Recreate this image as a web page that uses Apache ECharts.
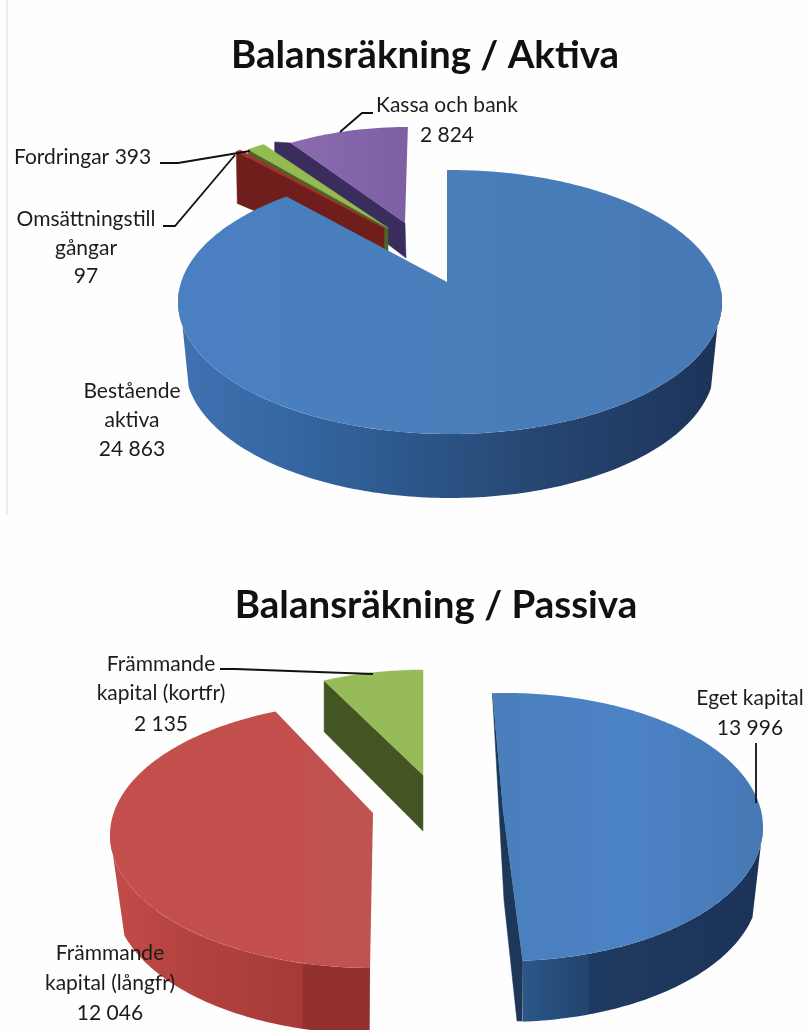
<!DOCTYPE html>
<html><head><meta charset="utf-8">
<script src="https://cdn.jsdelivr.net/npm/echarts@6/dist/echarts.min.js"></script>
<style>html,body{margin:0;padding:0;background:#fff}#c{width:808px;height:1030px}</style>
</head><body><div id="c"></div>
<script>
// ---- data ----
const aktivaTitle = 'Balansräkning / Aktiva';
const aktivaNames = ['Bestående aktiva', 'Omsättningstillgångar', 'Fordringar', 'Kassa och bank'];
const aktivaValues = [24863, 97, 393, 2824];
const passivaTitle = 'Balansräkning / Passiva';
const passivaNames = ['Eget kapital', 'Främmande kapital (långfr)', 'Främmande kapital (kortfr)'];
const passivaValues = [13996, 12046, 2135];

// ---- look and layout ----
const FONT = 'Lato, "Open Sans", sans-serif';
const grad = (stops) => new echarts.graphic.LinearGradient(0, 0, 1, 0,
  stops.map((c, i) => typeof c === 'string' ? { offset: i / (stops.length - 1), color: c } : { offset: c[0], color: c[1] }));

const aktivaLayout = [
  { apex: [447, 282], e: [450, 302, 272, 132], shear: 0,
    face: grad(['#4a80c2', '#4a7ebb', '#4679b5']),
    side: { apex: [447, 345], e: [450, 365, 265, 133], from: 94, to: 266, bFrom: 108, bTo: 252,
      fill: grad([[0, '#4072b2'], [0.2, '#3567a3'], [0.45, '#2c5587'], [0.7, '#25446f'], [1, '#1c3359']]) } },
  { apex: [384, 228], e: [387, 248, 254, 120], shear: 0, face: '#a3302c',
    wall: { edge: 0, rim: [1, 52], apex: [0, 38], fill: '#6f1e1b' } },
  { apex: [388, 228], e: [391, 247, 245, 120], shear: 0, face: '#93bb4f',
    wall: { edge: 0, rim: [0, 40], apex: [0, 36], fill: '#4f6228' } },
  { apex: [405, 223], e: [408, 243, 232, 116], shear: -0.03, face: grad(['#8a6bb0', '#7d5fa3']),
    wall: { edge: 0, rim: [-16, 15], flare: [-16, -1], apex: [1, 35], fill: '#3b2c5e' } }
];
const aktivaOrder = [3, 2, 1, 0];

const passivaLayout = [
  { apex: [503, 810], e: [505, 827, 258, 134], shear: 0.09,
    face: grad(['#4a7ebb', '#4c83c6', '#4678b4']),
    sliver: { via: [[504, 900], [517, 1021], [522, 1021]], fill: '#1c3757' },
    side: { apex: [503, 870], e: [505, 887, 254, 135], from: 97, to: 180, bFrom: 110,
      fill: grad([[0, '#2c5788'], [0.27, '#23446e'], [0.28, '#1f3a60'], [1, '#1c3359']]) } },
  { apex: [373, 813], e: [373, 835, 263, 133], shear: -0.06,
    face: grad([[0, '#c24f4c'], [0.74, '#c4504d'], [0.75, '#c0524f'], [1, '#bf5350']]),
    side: { apex: [373, 875], e: [373, 897, 259, 137], from: 170, to: 261, bTo: 245,
      fill: grad([[0, '#c24b48'], [0.35, '#b2413e'], [0.735, '#a53b38'], [0.745, '#93312f'], [1, '#93312f']]) } },
  { apex: [423, 775], e: [423, 785, 234, 115], shear: 0, face: '#97bb58',
    wall: { edge: 0, rim: [0, 51], apex: [0, 56], fill: '#425523' } }
];
const passivaOrder = [2, 1, 0];

// Labels: value text comes from the data arrays
const labelStyle = { fontFamily: FONT, fontSize: 21, fill: '#1c1c1c' };
const fmt = v => String(v).replace(/\B(?=(\d{3})+$)/g, ' ');
const labels = [
  { x: 447, y: 105, t: 'Kassa och bank' }, { x: 447, y: 135, t: fmt(aktivaValues[3]) },
  { x: 14, y: 157, t: 'Fordringar ' + fmt(aktivaValues[2]), align: 'left' },
  { x: 86, y: 219, t: 'Omsättningstill' }, { x: 86, y: 248, t: 'gångar' }, { x: 86, y: 276, t: fmt(aktivaValues[1]) },
  { x: 132, y: 391, t: 'Bestående' }, { x: 132, y: 420, t: 'aktiva' }, { x: 132, y: 449, t: fmt(aktivaValues[0]) },
  { x: 161, y: 664, t: 'Främmande' }, { x: 161, y: 693, t: 'kapital (kortfr)' }, { x: 161, y: 724, t: fmt(passivaValues[2]) },
  { x: 750, y: 698, t: 'Eget kapital' }, { x: 750, y: 728, t: fmt(passivaValues[0]) },
  { x: 110, y: 953, t: 'Främmande' }, { x: 110, y: 983, t: 'kapital (långfr)' }, { x: 110, y: 1013, t: fmt(passivaValues[1]) }
];
const leaders = [
  [[340, 132], [362, 113], [373, 113]],
  [[160, 163], [178, 163], [250, 151]],
  [[163, 226], [175, 226], [235, 155]],
  [[220, 669], [235, 669], [373, 674]],
  [[756, 743], [756, 803]]
];

// ---- geometry: a ray from the slice apex meets the rim ellipse ----
function rim(l, deg) {
  const a = deg * Math.PI / 180, [ex, ey, rx, ry] = l.e, [ax, ay] = l.apex;
  const dx = rx * Math.sin(a) - (l.shear || 0) * ry * Math.cos(a), dy = -ry * Math.cos(a);
  const ux = (ax - ex) / rx, uy = (ay - ey) / ry, vx = dx / rx, vy = dy / ry;
  const A = vx * vx + vy * vy, B = 2 * (ux * vx + uy * vy), C = ux * ux + uy * uy - 1;
  const t = (-B + Math.sqrt(B * B - 4 * A * C)) / (2 * A);
  return [ax + t * dx, ay + t * dy];
}
function arc(l, a0, a1) {
  const n = Math.max(2, Math.ceil(Math.abs(a1 - a0))), out = [];
  for (let i = 0; i <= n; i++) out.push(rim(l, a0 + (a1 - a0) * i / n));
  return out;
}
const add = (p, o) => [p[0] + o[0], p[1] + o[1]];
const poly = (points, fill) => ({ type: 'polygon', shape: { points }, style: { fill, stroke: typeof fill === 'string' ? fill : null, lineWidth: 0.5 } });

function pieSeries(values, layout, order, z) {
  const total = values.reduce((s, v) => s + v, 0);
  const starts = []; let acc = 0;
  values.forEach(v => { starts.push(acc / total * 360); acc += v; });
  return {
    type: 'custom', coordinateSystem: 'none', silent: true, z,
    data: order.map(i => ({ value: [values[i], i] })),
    renderItem(params, api) {
      const i = api.value(1), l = layout[i], a0 = starts[i], a1 = a0 + api.value(0) / total * 360;
      const children = [];
      if (l.side) {
        const s = l.side, f = Math.max(a0, s.from), t = Math.min(a1, s.to);
        // at the silhouette the lower rim starts a little further round, so the outline runs smoothly
        const fb = f === s.from && s.bFrom ? s.bFrom : f, tb = t === s.to && s.bTo ? s.bTo : t;
        children.push(poly(arc(l, f, t).concat(arc({ ...s, shear: l.shear }, fb, tb).reverse()), s.fill));
      }
      if (l.sliver) children.push(poly([rim(l, a0), ...l.sliver.via, rim(l, a1), l.apex], l.sliver.fill));
      if (l.wall) {
        const w = l.wall, r = rim(l, a0), pts = [r];
        if (w.flare) pts.push(add(r, w.flare));
        pts.push(add(r, w.rim), add(l.apex, w.apex), l.apex);
        children.push(poly(pts, w.fill));
      }
      children.push(poly([l.apex].concat(arc(l, a0, a1)), l.face));
      return { type: 'group', children };
    }
  };
}

const chart = echarts.init(document.getElementById('c'), null, { renderer: 'canvas' });
const titleStyle = { fontFamily: FONT, fontSize: 38.5, fontWeight: 'bold', color: '#111' };
chart.setOption({
  animation: false,
  backgroundColor: '#fefefe',
  title: [
    { text: aktivaTitle, left: 425, top: 36, padding: 0, textAlign: 'center', textStyle: titleStyle },
    { text: passivaTitle, left: 436, top: 586, padding: 0, textAlign: 'center', textStyle: titleStyle }
  ],
  series: [pieSeries(aktivaValues, aktivaLayout, aktivaOrder, 2), pieSeries(passivaValues, passivaLayout, passivaOrder, 2)],
  graphic: [
    { type: 'line', z: 1, shape: { x1: 7, y1: 0, x2: 7, y2: 515 }, style: { stroke: '#e6e6e6', lineWidth: 1.5 } },
    ...leaders.map(pts => ({ type: 'polyline', z: 10, shape: { points: pts }, style: { stroke: '#111', lineWidth: 1.8, fill: null } })),
    ...labels.map(o => ({ type: 'text', z: 11, x: o.x, y: o.y, style: { ...labelStyle, text: o.t, textAlign: o.align || 'center', textVerticalAlign: 'middle' } }))
  ]
});
</script></body></html>
